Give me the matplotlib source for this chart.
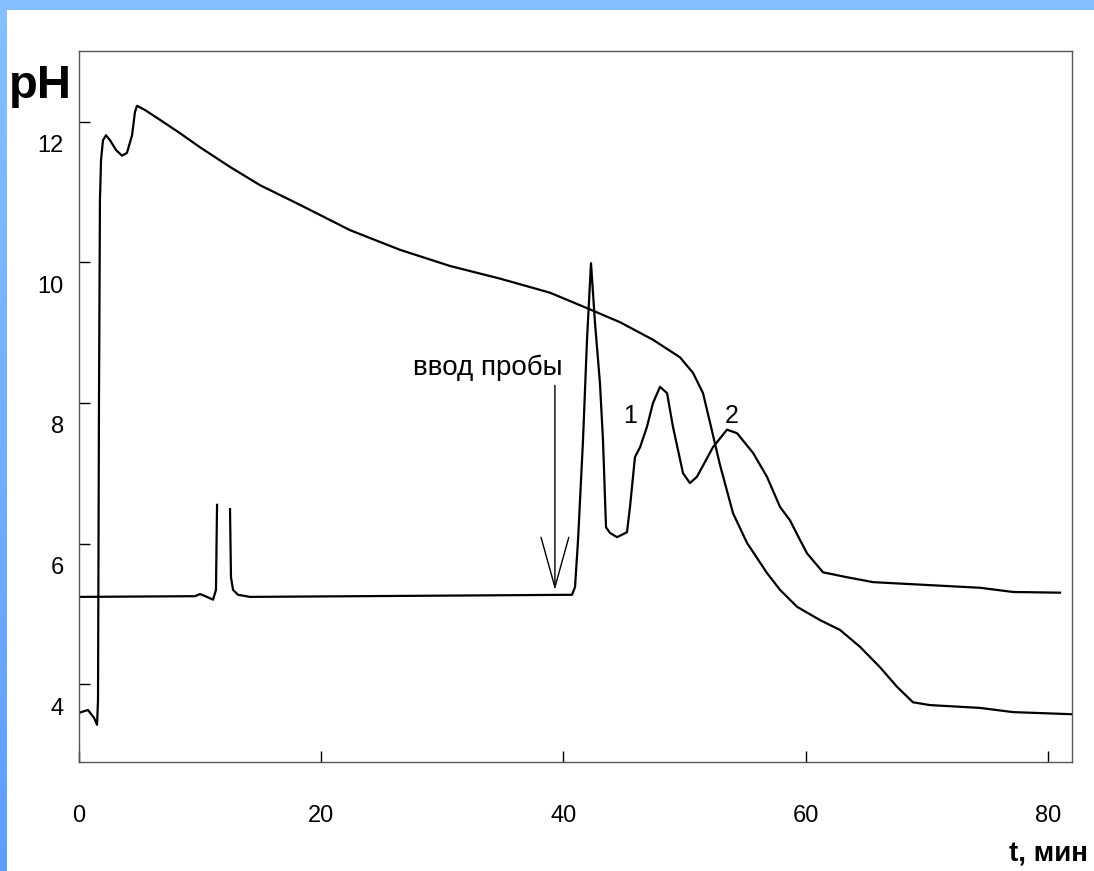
import matplotlib
matplotlib.use("Agg")
import matplotlib.pyplot as plt
import numpy as np
from matplotlib.patches import Rectangle
from matplotlib.transforms import ScaledTranslation

plt.rcParams['font.family'] = ['Liberation Sans', 'DejaVu Sans']

# ---- data ----
# curve 1: pH during run (rises to ~12, then falls)
t_ph = [0.0, 0.74, 1.24, 1.49, 1.57, 1.65, 1.73, 1.82, 1.98, 2.23, 2.56, 3.06, 3.55,
        3.96, 4.38, 4.62, 4.79, 5.45, 6.69, 8.34, 9.99, 12.47, 14.95, 18.25, 22.38,
        26.51, 30.64, 34.77, 38.89, 41.95, 44.67, 47.40, 49.63, 50.70, 51.53, 52.11,
        52.93, 54.01, 55.16, 56.81, 57.89, 59.29, 61.19, 62.84, 64.49, 66.14, 67.55,
        68.87, 70.27, 74.40, 77.13, 82.0]
ph_vals = [3.59, 3.63, 3.52, 3.42, 3.77, 8.04, 10.89, 11.46, 11.74, 11.81, 11.74, 11.60,
           11.52, 11.56, 11.81, 12.14, 12.23, 12.17, 12.03, 11.84, 11.64, 11.36, 11.10,
           10.82, 10.46, 10.18, 9.95, 9.77, 9.57, 9.35, 9.15, 8.90, 8.65, 8.43, 8.14,
           7.72, 7.12, 6.43, 6.01, 5.58, 5.34, 5.10, 4.91, 4.77, 4.53, 4.24, 3.96, 3.74,
           3.70, 3.66, 3.60, 3.57]

# curve 2: detector signal (baseline ~5.25 with peaks 1 and 2)
t_sig = [0.0, 9.58, 9.99, 10.57, 11.07, 11.31, 11.40, np.nan, 12.47, 12.55, 12.72, 13.13,
         14.12, 40.71, 40.96, 41.21, 41.62, 41.95, 42.28, 42.61, 43.02, 43.27, 43.52,
         43.85, 44.43, 45.25, 45.50, 45.91, 46.33, 46.90, 47.40, 47.98, 48.56, 49.05,
         49.88, 50.45, 51.03, 52.35, 53.51, 54.34, 55.66, 56.81, 57.89, 58.71, 59.54,
         60.12, 61.44, 63.42, 65.57, 68.87, 74.40, 77.13, 81.01]
sig_vals = [5.24, 5.25, 5.28, 5.24, 5.20, 5.34, 6.55, np.nan, 6.49, 5.52, 5.34, 5.27,
            5.24, 5.27, 5.38, 6.05, 7.47, 8.90, 9.99, 9.14, 8.28, 7.47, 6.23, 6.15,
            6.09, 6.16, 6.52, 7.23, 7.37, 7.66, 8.00, 8.23, 8.14, 7.66, 7.00, 6.86,
            6.95, 7.37, 7.62, 7.57, 7.29, 6.95, 6.52, 6.33, 6.05, 5.86, 5.59, 5.52,
            5.45, 5.42, 5.37, 5.31, 5.30]

x_ticks = [0, 20, 40, 60, 80]
x_ticklabels = ['0', '20', '40', '60', '80']
y_ticks = [4, 6, 8, 10, 12]
y_ticklabels = ['4', '6', '8', '10', '12']

inject_label = 'ввод пробы'
inject_text_pos = (39.9, 8.50)
inject_arrow_tail = (39.3, 8.25)
inject_arrow_tip = (39.3, 5.34)
peak_labels = ['1', '2']
peak_label_pos = [(45.5, 7.81), (53.9, 7.81)]

# ---- figure ----
W, H, DPI = 1094, 871, 100
fig = plt.figure(figsize=(W / DPI, H / DPI), dpi=DPI)
fig.patch.set_facecolor('#78b4ff')
# gradient blue frame
bg = fig.add_axes([0, 0, 1, 1], zorder=-10)
grad = np.linspace(0, 1, 256).reshape(-1, 1)
bg.imshow(grad, aspect='auto', extent=[0, 1, 0, 1], origin='upper',
          cmap=matplotlib.colors.LinearSegmentedColormap.from_list(
              'b', ['#86c0ff', '#5f9dff']))
bg.add_patch(Rectangle((7 / W, 0), 1, 1 - 10 / H, facecolor='white',
                       edgecolor='none', transform=bg.transAxes))
bg.set_xlim(0, 1)
bg.set_ylim(0, 1)
bg.axis('off')

ax = fig.add_axes([79 / W, 1 - 762 / H, (1072 - 79) / W, (762 - 51) / H])
ax.set_facecolor('white')
ax.plot(t_ph, ph_vals, color='black', lw=1.6)
ax.plot(t_sig, sig_vals, color='black', lw=1.6)

ax.set_xlim(0, 82.0)
ax.set_ylim(2.89, 13.01)

ax.set_xticks(x_ticks)
ax.set_xticklabels(x_ticklabels, fontsize=17)
ax.set_yticks(y_ticks)
ax.set_yticklabels(y_ticklabels, fontsize=17)
ax.tick_params(axis='both', direction='in', length=8, width=1, color='black')
ax.tick_params(axis='x', pad=31)
ax.tick_params(axis='y', pad=11)
for lab in ax.get_yticklabels():
    lab.set_transform(lab.get_transform() +
                      ScaledTranslation(0, -22 / DPI, fig.dpi_scale_trans))
for s in ax.spines.values():
    s.set_color('#555555')
    s.set_linewidth(1.0)

# annotations
ax.text(*inject_text_pos, inject_label, fontsize=20, ha='right', va='center')
ax.annotate('', xy=inject_arrow_tip, xytext=inject_arrow_tail,
            arrowprops=dict(arrowstyle='->,head_length=3.6,head_width=1.0',
                            mutation_scale=10, lw=1, color='black',
                            shrinkA=0, shrinkB=0))
for lab, pos in zip(peak_labels, peak_label_pos):
    ax.text(*pos, lab, fontsize=18, ha='center', va='center')

fig.text(40 / W, 1 - 86 / H, 'pH', fontsize=34, fontweight='bold',
         ha='center', va='center')
fig.text(1088 / W, 1 - 867 / H, 't, мин', fontsize=20, fontweight='bold',
         ha='right', va='bottom')

fig.savefig('out.png', dpi=DPI)
